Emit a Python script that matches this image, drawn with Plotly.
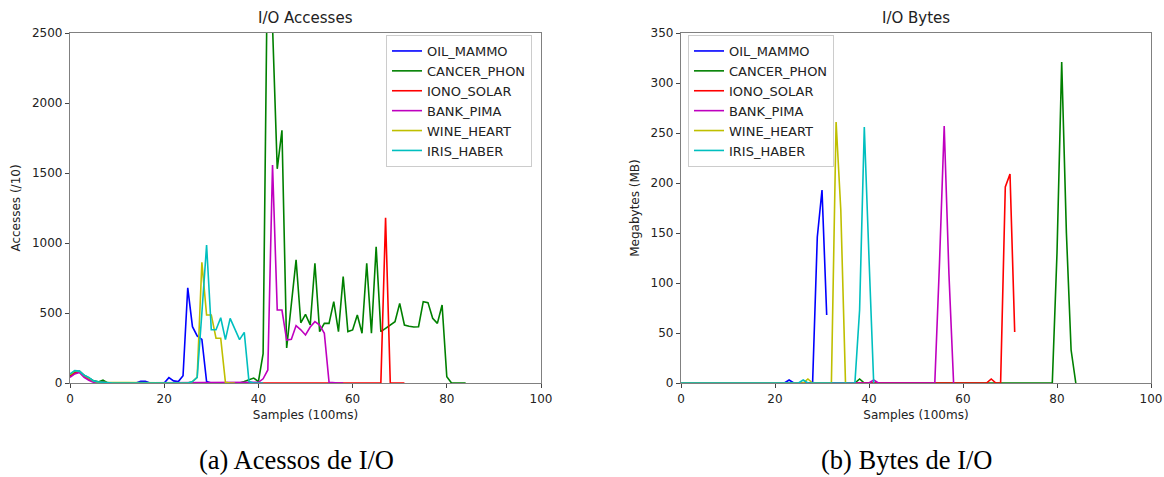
import plotly.graph_objects as go

W, H = 1164, 477

series_names = ["OIL_MAMMO", "CANCER_PHON", "IONO_SOLAR", "BANK_PIMA", "WINE_HEART", "IRIS_HABER"]
series_colors = ["#0000ff", "#008000", "#ff0000", "#bf00bf", "#bfbf00", "#00bfbf"]

# ---- I/O Accesses (/10), one value per 100 ms sample ----
acc_oil_mammo = [50, 75, 85, 55, 35, 15, 5, 10, 0, 0,
                 0, 0, 0, 0, 0, 12, 12, 0, 0, 0,
                 0, 38, 15, 10, 52, 680, 402, 336, 312, 10,
                 0, 0]
acc_cancer_phon = [55, 80, 80, 50, 35, 15, 8, 20, 0, 0,
                   0, 0, 0, 0, 0, 0, 0, 0, 0, 0,
                   0, 0, 0, 0, 0, 0, 0, 0, 0, 0,
                   0, 0, 0, 0, 0, 0, 0, 10, 25, 35,
                   10, 210, 3260, 2550, 1530, 1805, 250, 560, 880, 430,
                   490, 414, 855, 367, 426, 426, 581, 367, 760, 367,
                   379, 486, 355, 855, 355, 973, 367, 390, 415, 438,
                   569, 414, 405, 400, 402, 581, 574, 462, 426, 557,
                   45, 0, 0, 0, 0]
acc_iono_solar = [45, 70, 80, 50, 30, 10, 3, 5, 0, 0,
                  0, 0, 0, 0, 0, 0, 0, 0, 0, 0,
                  0, 0, 0, 0, 0, 0, 0, 0, 0, 0,
                  0, 0, 0, 0, 0, 0, 0, 0, 0, 0,
                  0, 0, 0, 0, 0, 0, 0, 0, 0, 0,
                  0, 0, 0, 0, 0, 0, 0, 0, 0, 0,
                  0, 0, 0, 0, 0, 0, 0, 1180, 0, 0,
                  0, 0]
acc_bank_pima = [40, 65, 75, 40, 20, 5, 0, 0, 0, 0,
                 0, 0, 0, 0, 0, 0, 0, 0, 0, 0,
                 0, 0, 0, 0, 0, 0, 0, 0, 0, 0,
                 0, 0, 0, 0, 0, 0, 0, 0, 0, 0,
                 5, 30, 93, 1557, 521, 521, 307, 312, 410, 380,
                 343, 400, 438, 414, 355, 5, 0, 0, 0]
acc_wine_heart = [60, 85, 85, 55, 35, 15, 5, 5, 0, 0,
                  0, 0, 0, 0, 0, 0, 0, 0, 0, 0,
                  0, 0, 0, 0, 0, 0, 10, 40, 862, 486,
                  486, 320, 320, 5, 0, 0]
acc_iris_haber = [65, 88, 85, 55, 40, 15, 8, 5, 0, 0,
                  0, 0, 0, 0, 0, 0, 0, 0, 0, 0,
                  0, 0, 0, 0, 0, 0, 10, 40, 500, 985,
                  380, 380, 466, 310, 462, 385, 310, 362, 10, 0,
                  0, 0]

# ---- I/O Bytes (MB) ----
mb_oil_mammo = [0, 0, 0, 0, 0, 0, 0, 0, 0, 0,
                0, 0, 0, 0, 0, 0, 0, 0, 0, 0,
                0, 0, 0, 3, 0, 0, 0, 0, 0, 146,
                193, 68]
mb_cancer_phon = [0, 0, 0, 0, 0, 0, 0, 0, 0, 0,
                  0, 0, 0, 0, 0, 0, 0, 0, 0, 0,
                  0, 0, 0, 0, 0, 0, 0, 0, 0, 0,
                  0, 0, 0, 0, 0, 0, 0, 0, 4, 0,
                  0, 0, 0, 0, 0, 0, 0, 0, 0, 0,
                  0, 0, 0, 0, 0, 0, 0, 0, 0, 0,
                  0, 0, 0, 0, 0, 0, 0, 0, 0, 0,
                  0, 0, 0, 0, 0, 0, 0, 0, 0, 0,
                  130, 321, 150, 33, 0]
mb_iono_solar = [0, 0, 0, 0, 0, 0, 0, 0, 0, 0,
                 0, 0, 0, 0, 0, 0, 0, 0, 0, 0,
                 0, 0, 0, 0, 0, 0, 0, 0, 0, 0,
                 0, 0, 0, 0, 0, 0, 0, 0, 0, 0,
                 0, 0, 0, 0, 0, 0, 0, 0, 0, 0,
                 0, 0, 0, 0, 0, 0, 0, 0, 0, 0,
                 0, 0, 0, 0, 0, 0, 4, 0, 0, 196,
                 209, 51]
mb_bank_pima = [0, 0, 0, 0, 0, 0, 0, 0, 0, 0,
                0, 0, 0, 0, 0, 0, 0, 0, 0, 0,
                0, 0, 0, 0, 0, 0, 0, 0, 0, 0,
                0, 0, 0, 0, 0, 0, 0, 0, 0, 0,
                0, 3, 0, 0, 0, 0, 0, 0, 0, 0,
                0, 0, 0, 0, 0, 120, 257, 110, 0]
mb_wine_heart = [0, 0, 0, 0, 0, 0, 0, 0, 0, 0,
                 0, 0, 0, 0, 0, 0, 0, 0, 0, 0,
                 0, 0, 0, 0, 0, 0, 0, 4, 0, 0,
                 0, 0, 0, 261, 173, 0]
mb_iris_haber = [0, 0, 0, 0, 0, 0, 0, 0, 0, 0,
                 0, 0, 0, 0, 0, 0, 0, 0, 0, 0,
                 0, 0, 0, 0, 0, 0, 3, 0, 0, 0,
                 0, 0, 0, 0, 0, 0, 0, 0, 73, 256,
                 125, 0]

x_ticks = [0, 20, 40, 60, 80, 100]
acc_ticks = [0, 500, 1000, 1500, 2000, 2500]
mb_ticks = [0, 50, 100, 150, 200, 250, 300, 350]

acc_series = [acc_oil_mammo, acc_cancer_phon, acc_iono_solar, acc_bank_pima, acc_wine_heart, acc_iris_haber]
mb_series = [mb_oil_mammo, mb_cancer_phon, mb_iono_solar, mb_bank_pima, mb_wine_heart, mb_iris_haber]

fig = go.Figure()
for name, color, ys in zip(series_names, series_colors, acc_series):
    fig.add_trace(go.Scatter(x=list(range(len(ys))), y=ys, mode="lines", name=name,
                             line=dict(color=color, width=1.6),
                             xaxis="x", yaxis="y", legend="legend"))
for name, color, ys in zip(series_names, series_colors, mb_series):
    fig.add_trace(go.Scatter(x=list(range(len(ys))), y=ys, mode="lines", name=name,
                             line=dict(color=color, width=1.6),
                             xaxis="x2", yaxis="y2", legend="legend2"))

FONT = "DejaVu Sans"
TICKF = dict(family=FONT, size=12, color="#222")
LINEC = "#808080"

ydom = [(H - 383) / H, (H - 33) / H]
xdom1 = [70 / W, 541 / W]
xdom2 = [681 / W, 1151 / W]

def xax(dom, anchor):
    return dict(domain=dom, anchor=anchor, range=[0, 100], tickvals=x_ticks,
                ticks="outside", ticklen=4, tickcolor="#444", tickwidth=1,
                showline=True, mirror=True, linecolor=LINEC, linewidth=1.2,
                showgrid=False, zeroline=False, tickfont=TICKF, automargin=False,
                title=dict(text="Samples (100ms)", font=TICKF, standoff=6))

def yax(dom, anchor, rng, tv, title):
    return dict(domain=dom, anchor=anchor, range=rng, tickvals=tv,
                ticks="outside", ticklen=4, tickcolor="#444", tickwidth=1,
                showline=True, mirror=True, linecolor=LINEC, linewidth=1.2,
                showgrid=False, zeroline=False, tickfont=TICKF, automargin=False,
                title=dict(text=title, font=TICKF, standoff=8))

legend_common = dict(yanchor="top", xanchor="left", bgcolor="white",
                     bordercolor="#cccccc", borderwidth=1,
                     font=dict(family=FONT, size=13, color="#222"),
                     itemwidth=30, tracegroupgap=0)

fig.update_layout(
    template="none",
    width=W, height=H, margin=dict(l=0, r=0, t=0, b=0, autoexpand=False),
    paper_bgcolor="white", plot_bgcolor="white",
    xaxis=xax(xdom1, "y"),
    yaxis=yax(ydom, "x", [0, 2500], acc_ticks, "Accesses (/10)"),
    xaxis2=xax(xdom2, "y2"),
    yaxis2=yax(ydom, "x2", [0, 350], mb_ticks, "Megabytes (MB)"),
    legend=dict(x=386 / W, y=1 - 35 / H, **legend_common),
    legend2=dict(x=688 / W, y=1 - 35 / H, **legend_common),
    showlegend=True,
    annotations=[
        dict(text="I/O Accesses", x=sum(xdom1) / 2, y=1 - 18 / H, xref="paper", yref="paper",
             showarrow=False, xanchor="center", yanchor="middle",
             font=dict(family=FONT, size=15, color="#222")),
        dict(text="I/O Bytes", x=sum(xdom2) / 2, y=1 - 18 / H, xref="paper", yref="paper",
             showarrow=False, xanchor="center", yanchor="middle",
             font=dict(family=FONT, size=15, color="#222")),
        dict(text="(a) Acessos de I/O", x=296 / W, y=1 - 460 / H, xref="paper", yref="paper",
             showarrow=False, xanchor="center", yanchor="middle",
             font=dict(family="Liberation Serif", size=26.5, color="black")),
        dict(text="(b) Bytes de I/O", x=906 / W, y=1 - 460 / H, xref="paper", yref="paper",
             showarrow=False, xanchor="center", yanchor="middle",
             font=dict(family="Liberation Serif", size=26.5, color="black")),
    ],
)

fig.write_html("out.html")
